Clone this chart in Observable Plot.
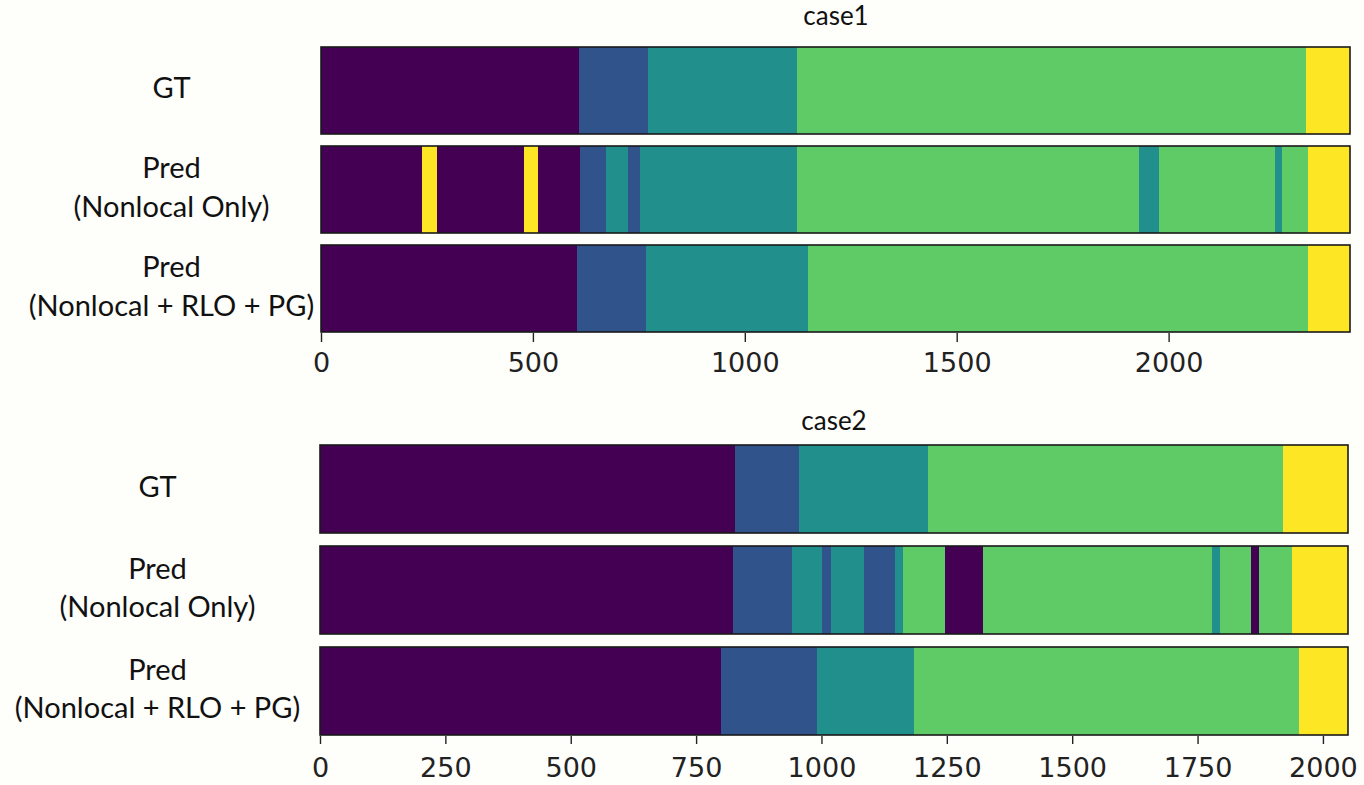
<!DOCTYPE html>
<html>
<head>
<meta charset="utf-8">
<script src="https://cdn.jsdelivr.net/npm/d3@7"></script>
<script src="https://cdn.jsdelivr.net/npm/@observablehq/plot@0.6"></script>
<style>
  html, body { margin: 0; padding: 0; background: #fefefb; }
  body { width: 1364px; height: 785px; position: relative; overflow: hidden; }
  .title { position: absolute; font-family: Lato, "Open Sans", sans-serif; font-size: 26px; line-height: 28px; color: #111; transform: translateX(-50%); white-space: nowrap; }
  .chart { position: absolute; left: 0; }
</style>
</head>
<body>
<div class="title" id="t1" style="left:836px; top:1px;">case1</div>
<div class="chart" id="c1" style="top:30px;"></div>
<div class="title" id="t2" style="left:834px; top:406px;">case2</div>
<div class="chart" id="c2" style="top:435px;"></div>
<script>
// Row labels
const rowLabels = ["GT", "Pred\n(Nonlocal Only)", "Pred\n(Nonlocal + RLO + PG)"];
// Class colours (viridis, 5 classes)
const classColors = ["#440154", "#31538b", "#21908c", "#5ecb66", "#fde725"];

// ---- case1: segment end positions and class of each segment ----
const case1Max = 2428;
const case1Ticks = [0, 500, 1000, 1500, 2000];
const case1GT_ends = [609, 771, 1124, 2325, 2428];
const case1GT_cls  = [0, 1, 2, 3, 4];
const case1NL_ends = [238, 274, 480, 512, 610, 673, 724, 752, 1124, 1929, 1977, 2252, 2267, 2328, 2428];
const case1NL_cls  = [0, 4, 0, 4, 0, 1, 2, 1, 2, 3, 2, 3, 2, 3, 4];
const case1RLO_ends = [604, 766, 1149, 2328, 2428];
const case1RLO_cls  = [0, 1, 2, 3, 4];

// ---- case2 ----
const case2Max = 2050;
const case2Ticks = [0, 250, 500, 750, 1000, 1250, 1500, 1750, 2000];
const case2GT_ends = [828, 956, 1213, 1921, 2050];
const case2GT_cls  = [0, 1, 2, 3, 4];
const case2NL_ends = [823, 941, 1002, 1019, 1084, 1146, 1162, 1246, 1322, 1779, 1794, 1856, 1873, 1939, 2050];
const case2NL_cls  = [0, 1, 2, 1, 2, 1, 2, 3, 0, 3, 2, 3, 0, 3, 4];
const case2RLO_ends = [799, 992, 1184, 1952, 2050];
const case2RLO_cls  = [0, 1, 2, 3, 4];

function segments(row, ends, cls) {
  const out = [];
  let s = 0;
  ends.forEach((e, i) => { out.push({row, start: s, end: e, cls: cls[i]}); s = e; });
  return out;
}

function makeChart({rows, max, ticks, height, marginTop, marginBottom, marginLeft, marginRight, labelX, tickSize, tickPadding}) {
  const segs = rows.flatMap(r => segments(r.label, r.ends, r.cls));
  return Plot.plot({
    width: 1364,
    height,
    marginTop, marginBottom, marginLeft, marginRight,
    style: {background: "transparent", overflow: "visible"},
    x: {domain: [0, max], label: null},
    y: {domain: rowLabels, paddingInner: 0.125, paddingOuter: 0, label: null},
    color: {domain: [0, 1, 2, 3, 4], range: classColors},
    marks: [
      Plot.barX(segs, {x1: "start", x2: "end", y: "row", fill: "cls", shapeRendering: "crispEdges"}),
      Plot.barX(rowLabels, {x1: () => 0, x2: () => max, y: d => d, fill: "none", stroke: "#1a1a1a", strokeWidth: 1.6}),
      Plot.axisX({ticks, tickSize, tickPadding, tickFormat: d => String(d), fontSize: 27,
        fontFamily: "DejaVu Sans", fill: "#222", stroke: "#222", strokeWidth: 1.4, label: null}),
      Plot.axisY({tickSize: 0, tickPadding: marginLeft - labelX, textAnchor: "middle", fontSize: 29,
        lineHeight: 1.33, dy: -5, fontFamily: "Lato, 'Open Sans', sans-serif", fill: "#111", label: null})
    ]
  });
}

document.getElementById("c1").append(makeChart({
  rows: [
    {label: rowLabels[0], ends: case1GT_ends, cls: case1GT_cls},
    {label: rowLabels[1], ends: case1NL_ends, cls: case1NL_cls},
    {label: rowLabels[2], ends: case1RLO_ends, cls: case1RLO_cls}
  ],
  max: case1Max, ticks: case1Ticks,
  height: 375, marginTop: 16, marginBottom: 72, marginLeft: 321, marginRight: 14,
  labelX: 171, tickSize: 9, tickPadding: 10
}));

document.getElementById("c2").append(makeChart({
  rows: [
    {label: rowLabels[0], ends: case2GT_ends, cls: case2GT_cls},
    {label: rowLabels[1], ends: case2NL_ends, cls: case2NL_cls},
    {label: rowLabels[2], ends: case2RLO_ends, cls: case2RLO_cls}
  ],
  max: case2Max, ticks: case2Ticks,
  height: 350, marginTop: 10, marginBottom: 49, marginLeft: 320, marginRight: 16,
  labelX: 157, tickSize: 8, tickPadding: 13
}));
</script>
</body>
</html>
